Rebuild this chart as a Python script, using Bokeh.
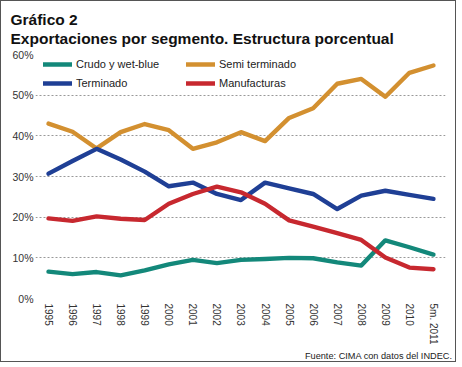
from bokeh.plotting import figure
from bokeh.models import Range1d, FixedTicker, Legend, LegendItem, Title
from bokeh.embed import file_html
from bokeh.resources import INLINE

years = [1995, 1996, 1997, 1998, 1999, 2000, 2001, 2002, 2003, 2004, 2005, 2006, 2007, 2008, 2009, 2010, 2011]
year_labels = ["1995", "1996", "1997", "1998", "1999", "2000", "2001", "2002", "2003", "2004",
               "2005", "2006", "2007", "2008", "2009", "2010", "5m. 2011"]

crudo = [6.6, 6.0, 6.5, 5.7, 6.9, 8.4, 9.5, 8.7, 9.5, 9.7, 10.0, 9.9, 8.9, 8.1, 14.3, 12.6, 10.8]
semi = [43.0, 41.0, 36.9, 40.9, 42.9, 41.4, 36.8, 38.4, 40.9, 38.7, 44.4, 46.8, 52.8, 54.0, 49.6, 55.5, 57.3]
terminado = [30.7, 33.8, 36.8, 34.2, 31.2, 27.6, 28.5, 25.7, 24.2, 28.5, 27.1, 25.7, 22.0, 25.3, 26.5, 25.5, 24.5]
manufacturas = [19.7, 19.1, 20.2, 19.6, 19.3, 23.3, 25.7, 27.5, 26.1, 23.3, 19.2, 17.7, 16.1, 14.4, 10.1, 7.6, 7.2]

series_names = ["Crudo y wet-blue", "Semi terminado", "Terminado", "Manufacturas"]
series_values = [crudo, semi, terminado, manufacturas]
series_colors = ["#13887a", "#d39030", "#1f3f95", "#c7282f"]
legend_order = ["Crudo y wet-blue", "Terminado", "Semi terminado", "Manufacturas"]
y_ticks = [0, 10, 20, 30, 40, 50, 60]

FONT = "Liberation Sans"

p = figure(width=456, height=362, output_backend="svg", toolbar_location=None,
           title="Gráfico 2\nExportaciones por segmento. Estructura porcentual",
           x_range=Range1d(1994.46, 2011.5), y_range=Range1d(0, 60),
           min_border_left=34, min_border_right=12, min_border_top=51, min_border_bottom=65)
p.styles = {"border": "1px solid #555555", "box-sizing": "border-box"}
p.outline_line_color = None
p.background_fill_color = "white"
p.border_fill_color = "white"

p.title.align = "left"
p.title.offset = -25
p.title.standoff = 15
p.title.text_font = FONT
p.title.text_font_style = "bold"
p.title.text_font_size = "15.5px"
p.title.text_line_height = 1.1
p.title.text_color = "#111111"

renderers = {}
for name, vals, col in zip(series_names, series_values, series_colors):
    renderers[name] = p.line(years, vals, line_color=col, line_width=4.4,
                             line_join="round", line_cap="round")

# axes
p.yaxis.ticker = FixedTicker(ticks=y_ticks)
p.yaxis.major_label_overrides = {t: f"{t}%" for t in y_ticks}
p.yaxis.axis_line_color = None
p.yaxis.major_tick_line_color = None
p.yaxis.minor_tick_line_color = None
p.yaxis.major_tick_out = 0
p.yaxis.major_tick_in = 0
p.yaxis.minor_tick_out = 0
p.yaxis.major_label_standoff = 2
p.yaxis.major_label_text_font = FONT
p.yaxis.major_label_text_font_size = "10.5px"
p.yaxis.major_label_text_color = "#333333"

p.xaxis.ticker = FixedTicker(ticks=years)
p.xaxis.major_label_overrides = {y: l for y, l in zip(years, year_labels)}
p.xaxis.major_label_orientation = "vertical"
p.xaxis.axis_line_color = None
p.xaxis.major_tick_line_color = None
p.xaxis.minor_tick_line_color = None
p.xaxis.major_tick_out = 0
p.xaxis.major_tick_in = 0
p.xaxis.minor_tick_out = 0
p.xaxis.major_label_standoff = 5
p.xaxis.major_label_text_font = FONT
p.xaxis.major_label_text_font_size = "10px"
p.xaxis.major_label_text_color = "#333333"

p.xgrid.grid_line_color = None
p.ygrid.grid_line_color = "#999999"
p.ygrid.grid_line_dash = "2 2"
p.ygrid.grid_line_width = 1

legend = Legend(items=[LegendItem(label=n, renderers=[renderers[n]]) for n in legend_order],
                ncols=2, location=(8, 208))
legend.background_fill_alpha = 0
legend.border_line_color = None
legend.padding = 0
legend.margin = 0
legend.glyph_width = 29
legend.glyph_height = 14
legend.label_height = 14
legend.label_width = 105
legend.spacing = 5
legend.label_standoff = 4
legend.label_text_font = FONT
legend.label_text_font_size = "11px"
legend.label_text_color = "#222222"
p.add_layout(legend, "center")

src = Title(text="Fuente: CIMA con datos del INDEC.", align="right",
            text_font=FONT, text_font_style="normal", text_font_size="9.2px",
            text_color="#222222", offset=-7, standoff=2)
p.add_layout(src, "below")

open("out.html", "w").write(file_html(p, INLINE))
